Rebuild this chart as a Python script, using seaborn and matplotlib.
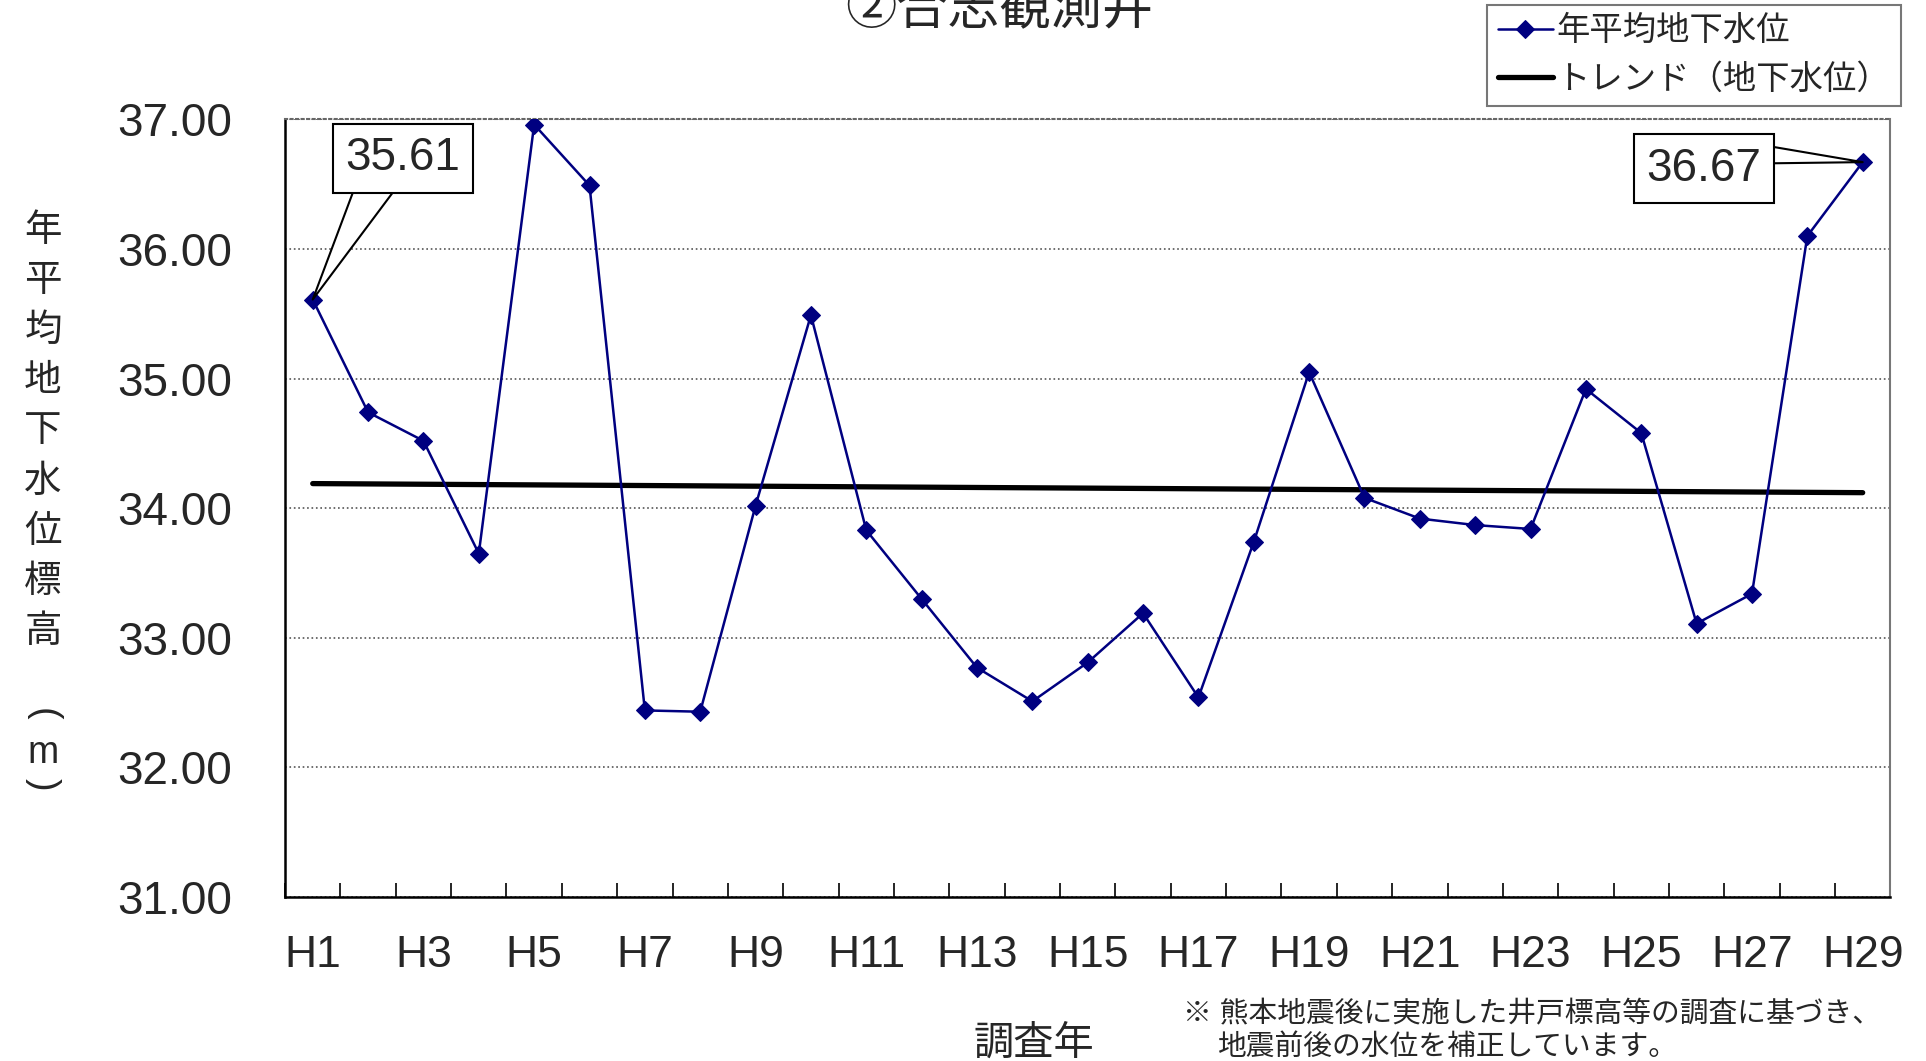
import numpy as np
import pandas as pd
import matplotlib
matplotlib.use("Agg")
import matplotlib.pyplot as plt
import seaborn as sns

# datos
anios = ["H" + str(i) for i in range(1, 30)]
nivel = [35.61, 34.74, 34.52, 33.65, 36.96, 36.49, 32.44, 32.43, 34.02, 35.49,
         33.83, 33.30, 32.77, 32.51, 32.81, 33.19, 32.54, 33.74, 35.05, 34.08,
         33.92, 33.87, 33.84, 34.92, 34.58, 33.11, 33.34, 36.10, 36.67]
tendencia_x = ["H1", "H29"]
tendencia_y = [34.19, 34.12]
yticks = [31, 32, 33, 34, 35, 36, 37]

sns.set_theme(style="white")
plt.rcParams['font.family'] = ['Liberation Sans', 'Noto Sans CJK JP', 'DejaVu Sans']

datos = pd.DataFrame({"anio": anios, "nivel": nivel})
datos["pos"] = np.arange(len(anios))
tend = pd.DataFrame({"pos": [anios.index(a) for a in tendencia_x], "nivel": tendencia_y})

fig = plt.figure(figsize=(19.26, 10.61), dpi=100)
ax = fig.add_axes([0.148, 0.1545, 0.8335, 0.733])

sns.lineplot(data=datos, x="pos", y="nivel", ax=ax, color="#000080", marker="D",
             markersize=9.5, markeredgecolor="#000080", linewidth=1.8,
             label="年平均地下水位", zorder=3)
sns.lineplot(data=tend, x="pos", y="nivel", ax=ax, color="black", linewidth=3.8,
             label="トレンド（地下水位）", zorder=2)

ax.set_xlim(-0.5, len(anios) - 0.5)
ax.set_ylim(31, 37)
ax.set_yticks(yticks)
ax.set_yticklabels([f"{v:.2f}" for v in yticks], fontsize=33)
ax.set_xticks(datos["pos"][::2])
ax.set_xticklabels(anios[::2], fontsize=32)
ax.set_xticks(np.arange(-0.5, len(anios), 1.0), minor=True)
ax.tick_params(axis="x", which="major", length=0, pad=27)
ax.tick_params(axis="x", which="minor", direction="in", length=10, width=1.2,
               color="black", bottom=True)
ax.tick_params(axis="y", length=0, pad=38)
ax.set_xlabel("")
ax.set_ylabel("")

ax.yaxis.grid(True, linestyle=":", color="#555555", linewidth=1.2)
ax.spines["left"].set_color("black")
ax.spines["bottom"].set_color("black")
ax.spines["left"].set_linewidth(1.8)
ax.spines["bottom"].set_linewidth(1.8)
ax.spines["top"].set_color("#666666")
ax.spines["top"].set_linestyle(":")
ax.spines["top"].set_linewidth(1.5)
ax.spines["right"].set_color("#777777")
ax.spines["right"].set_linewidth(1.5)

# etiquetas de valores primero y ultimo (caja + cuña)
caja = dict(boxstyle="square,pad=0.27", fc="white", ec="black", lw=1.5)
ax.annotate("", xy=(0, nivel[0]), xytext=(1.14, 36.50), zorder=4,
            arrowprops=dict(arrowstyle="wedge,tail_width=1.35", mutation_scale=20,
                            fc="white", ec="black", lw=1.5, shrinkA=0, shrinkB=0))
ax.text(1.63, 36.70, f"{nivel[0]:.2f}", fontsize=33, ha="center", va="center",
        bbox=caja, zorder=5)
ax.annotate("", xy=(28, nivel[-1]), xytext=(26.35, 36.725), zorder=4,
            arrowprops=dict(arrowstyle="wedge,tail_width=0.6", mutation_scale=20,
                            fc="white", ec="black", lw=1.5, shrinkA=0, shrinkB=0))
ax.text(25.13, 36.62, f"{nivel[-1]:.2f}", fontsize=33, ha="center", va="center",
        bbox=caja, zorder=5)

h, l = ax.get_legend_handles_labels()
ax.get_legend().remove()
leg = fig.legend(h, l, loc="upper right", bbox_to_anchor=(0.987, 0.995), fontsize=24,
                 frameon=True, fancybox=False, edgecolor="#555555", handlelength=1.65,
                 handletextpad=0.12, labelspacing=0.5, borderpad=0.32, borderaxespad=0)
leg.get_frame().set_linewidth(1.5)

fig.text(0.519, 0.99, "②合志観測井", fontsize=37, ha="center", va="center")
fig.text(0.537, 0.016, "調査年", fontsize=29, ha="center", va="center")

# etiqueta vertical del eje y
letras = list("年平均地下水位標高")
for i, c in enumerate(letras):
    fig.text(0.0223, 1 - (231 + i * 50.1) / 1061, c, fontsize=27, ha="center", va="center")
fig.text(0.0223, 1 - 714 / 1061, "(", fontsize=27, ha="center", va="center", rotation=270)
fig.text(0.0223, 1 - 753 / 1061, "m", fontsize=27, ha="center", va="center")
fig.text(0.0223, 1 - 784 / 1061, ")", fontsize=27, ha="center", va="center", rotation=270)

fig.text(0.614, 1 - 1014 / 1061, "※ 熊本地震後に実施した井戸標高等の調査に基づき、",
         fontsize=20.7, ha="left", va="center")
fig.text(0.632, 1 - 1047 / 1061, "地震前後の水位を補正しています。",
         fontsize=20.7, ha="left", va="center")

fig.savefig("out.png", dpi=100)
